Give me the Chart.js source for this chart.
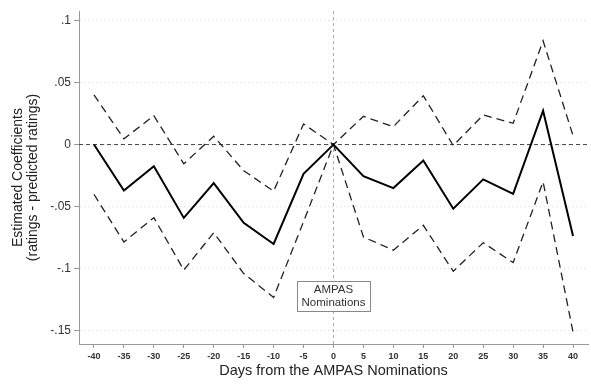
<!DOCTYPE html>
<html>
<head>
<meta charset="utf-8">
<script src="https://cdn.jsdelivr.net/npm/chart.js@4"></script>
<style>
  html, body { margin: 0; padding: 0; background: #fff; }
  #wrap { width: 591px; height: 384px; }
</style>
</head>
<body>
<div id="wrap"><canvas id="chart"></canvas></div>
<script>
// Days relative to the nominations
const days = [-40, -35, -30, -25, -20, -15, -10, -5, 0, 5, 10, 15, 20, 25, 30, 35, 40];
// Point estimates and 95% bounds
const estimate = [0, -0.037, -0.0174, -0.059, -0.031, -0.063, -0.080, -0.0235, 0, -0.0254, -0.035, -0.0128, -0.0516, -0.028, -0.0396, 0.0273, -0.0736];
const upper = [0.040, 0.0046, 0.0233, -0.0155, 0.0067, -0.021, -0.0375, 0.0166, 0, 0.0227, 0.0144, 0.0393, -0.0008, 0.0238, 0.0171, 0.0835, 0.0072];
const lower = [-0.040, -0.0784, -0.0588, -0.101, -0.0709, -0.1038, -0.123, -0.062, 0, -0.0744, -0.085, -0.065, -0.102, -0.079, -0.095, -0.030, -0.151];
// Tick labels
const yTicks = [-0.15, -0.1, -0.05, 0, 0.05, 0.1];
const yTickLabels = ['-.15', '-.1', '-.05', '0', '.05', '.1'];
const xTicks = days;

const font = "'Liberation Sans', Arial, sans-serif";

function pts(vals) {
    return days.map((d, i) => ({ x: d, y: vals[i] }));
}

// Reference lines and the text box
const refPlugin = {
    id: 'refs',
    beforeDatasetsDraw(chart) {
        const { ctx, chartArea: a, scales: { x, y } } = chart;
        ctx.save();
        // horizontal line at 0
        const y0 = y.getPixelForValue(0);
        ctx.strokeStyle = '#444';
        ctx.lineWidth = 1;
        ctx.setLineDash([4, 3]);
        ctx.beginPath();
        ctx.moveTo(a.left, y0);
        ctx.lineTo(a.right, y0);
        ctx.stroke();
        // vertical line at 0
        const x0 = x.getPixelForValue(0);
        ctx.strokeStyle = '#aaa';
        ctx.setLineDash([3, 3]);
        ctx.beginPath();
        ctx.moveTo(x0, a.top);
        ctx.lineTo(x0, a.bottom);
        ctx.stroke();
        ctx.restore();
    },
    afterDatasetsDraw(chart) {
        const { ctx, scales: { x, y } } = chart;
        const cx = x.getPixelForValue(0);
        const cy = y.getPixelForValue(-0.122);
        const w = 73, h = 30;
        ctx.save();
        ctx.fillStyle = '#fff';
        ctx.fillRect(cx - w / 2, cy - h / 2, w, h);
        ctx.strokeStyle = '#888';
        ctx.lineWidth = 1;
        ctx.strokeRect(Math.round(cx - w / 2) + 0.5, Math.round(cy - h / 2) + 0.5, w, h);
        ctx.fillStyle = '#333';
        ctx.font = '11.5px ' + font;
        ctx.textAlign = 'center';
        ctx.textBaseline = 'middle';
        ctx.fillText('AMPAS', cx, cy - 6);
        ctx.fillText('Nominations', cx, cy + 7);
        ctx.restore();
    }
};

const ctx = document.getElementById('chart');
new Chart(ctx.getContext('2d'), {
    type: 'line',
    data: {
        datasets: [
            {
                data: pts(estimate),
                borderColor: '#000',
                borderWidth: 2,
                pointRadius: 0,
                tension: 0
            },
            {
                data: pts(upper),
                borderColor: '#222',
                borderWidth: 1.3,
                borderDash: [8, 5],
                pointRadius: 0,
                tension: 0
            },
            {
                data: pts(lower),
                borderColor: '#222',
                borderWidth: 1.3,
                borderDash: [8, 5],
                pointRadius: 0,
                tension: 0
            }
        ]
    },
    options: {
        responsive: true,
        maintainAspectRatio: false,
        animation: false,
        layout: { padding: { top: 11, right: 3, left: 0, bottom: 0 } },
        plugins: {
            legend: { display: false },
            tooltip: { enabled: false }
        },
        scales: {
            x: {
                type: 'linear',
                min: -42.5,
                max: 42.5,
                afterBuildTicks(scale) {
                    scale.ticks = xTicks.map(v => ({ value: v }));
                },
                afterFit(scale) { scale.height = 40; },
                ticks: {
                    color: '#333',
                    font: { family: font, size: 9, weight: 'bold' },
                    padding: 3,
                    maxRotation: 0,
                    autoSkip: false
                },
                grid: {
                    drawOnChartArea: false,
                    drawTicks: true,
                    tickLength: 4,
                    tickColor: '#999'
                },
                border: { display: true, color: '#999', width: 1 },
                title: {
                    display: true,
                    text: 'Days from the AMPAS Nominations',
                    color: '#222',
                    font: { family: font, size: 14.5 },
                    padding: { top: 0, bottom: 4 }
                }
            },
            y: {
                min: -0.1605,
                max: 0.1075,
                afterBuildTicks(scale) {
                    scale.ticks = yTicks.map(v => ({ value: v }));
                },
                afterFit(scale) { scale.width = 79; },
                ticks: {
                    color: '#333',
                    font: { family: font, size: 12 },
                    padding: 3,
                    callback(value) {
                        const i = yTicks.findIndex(t => Math.abs(t - value) < 1e-9);
                        return i >= 0 ? yTickLabels[i] : '';
                    }
                },
                grid: {
                    drawOnChartArea: true,
                    color: '#ddd',
                    lineWidth: 1,
                    tickLength: 5,
                    tickColor: '#999'
                },
                border: { display: true, color: '#999', width: 1, dash: [1, 3] },
                title: {
                    display: true,
                    text: ['Estimated Coefficients', '(ratings - predicted ratings)'],
                    color: '#222',
                    font: { family: font, size: 14, lineHeight: 1.1 },
                    padding: { top: 10, bottom: 0 }
                }
            }
        }
    },
    plugins: [refPlugin]
});
</script>
</body>
</html>
